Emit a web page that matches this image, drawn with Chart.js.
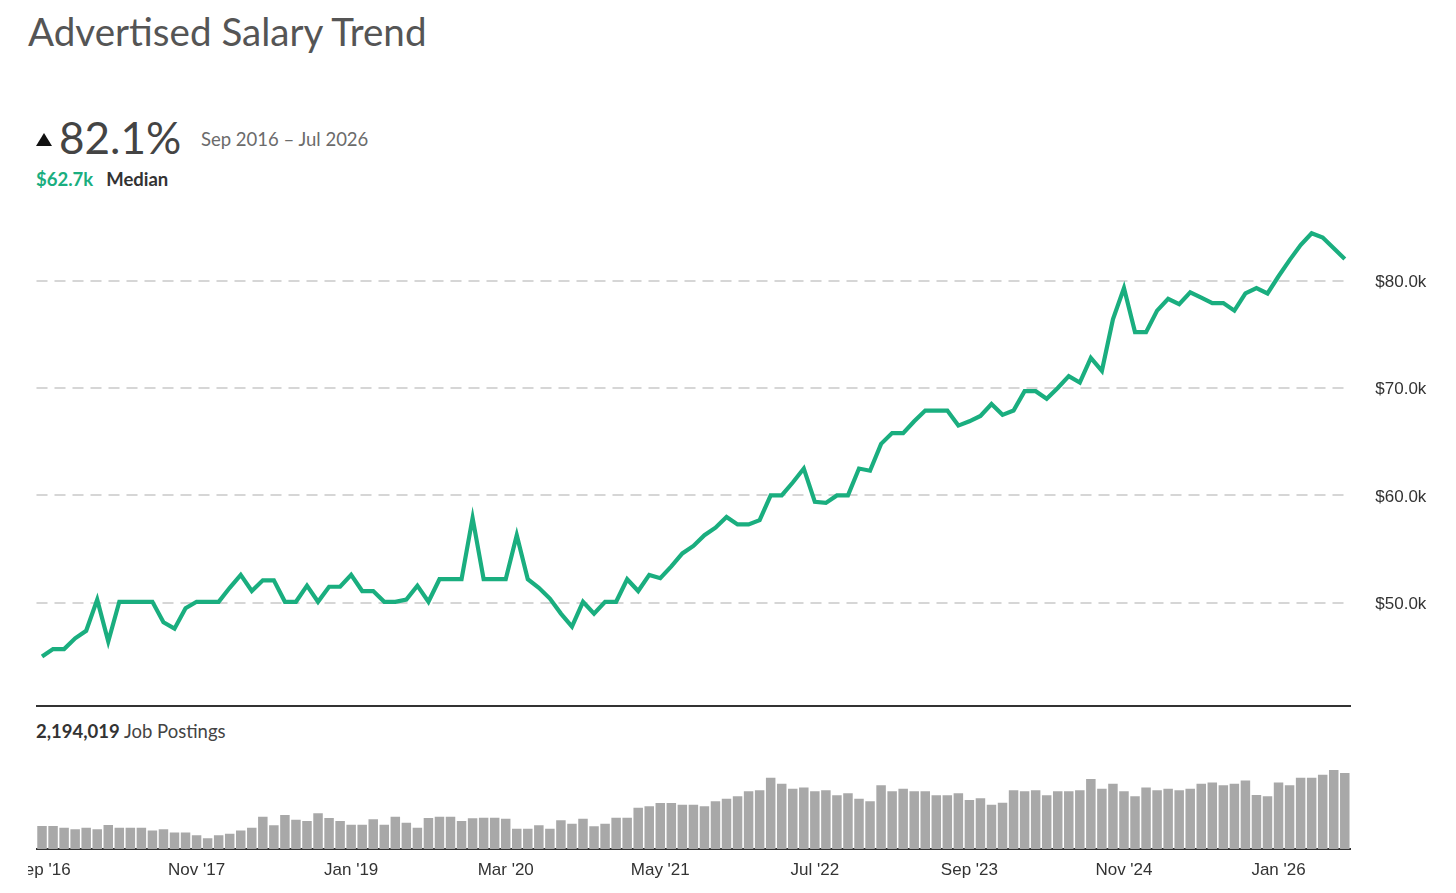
<!DOCTYPE html>
<html>
<head>
<meta charset="utf-8">
<script src="https://cdn.jsdelivr.net/npm/chart.js@4.4.1/dist/chart.umd.min.js"></script>
<style>
  html, body { margin: 0; padding: 0; background: #fff; }
  body { width: 1456px; height: 893px; position: relative; overflow: hidden; font-family: Lato, "Open Sans", sans-serif; }
  .txt { position: absolute; white-space: nowrap; line-height: 1; }
  #title { left: 28px; top: 12px; font-size: 38.6px; color: #555; }
  #tri { position: absolute; left: 36px; top: 133px; width: 0; height: 0;
         border-left: 8px solid transparent; border-right: 8px solid transparent; border-bottom: 13px solid #111; }
  #pct { left: 59px; top: 115px; font-size: 44px; color: #444; }
  #range { left: 201px; top: 130px; font-size: 18.5px; color: #6b6b6b; }
  #median { left: 36px; top: 170px; font-size: 18.5px; font-weight: bold; color: #333; }
  #median .val { color: #1aae7f; margin-right: 13px; }
  #postings { left: 36px; top: 722px; font-size: 18.5px; color: #444; }
  #postings b { color: #333; }
  #lineCanvas { position: absolute; left: 0; top: 200px; }
  #barCanvas { position: absolute; left: 28px; top: 740px; }
</style>
</head>
<body>
<div id="title" class="txt">Advertised Salary Trend</div>
<div id="tri"></div>
<div id="pct" class="txt">82.1%</div>
<div id="range" class="txt">Sep 2016 – Jul 2026</div>
<div id="median" class="txt"><span class="val">$62.7k</span>Median</div>
<div id="postings" class="txt"><b>2,194,019</b> Job Postings</div>
<canvas id="lineCanvas" width="1456" height="508"></canvas>
<canvas id="barCanvas" width="1428" height="153"></canvas>
<script>
// monthly median advertised salary, $k (Sep 2016 .. Jul 2026)
const salary = [
  45.0, 45.7, 45.7, 46.7, 47.4, 50.3, 46.4, 50.1, 50.1, 50.1,
  50.1, 48.2, 47.6, 49.5, 50.1, 50.1, 50.1, 51.4, 52.6, 51.1,
  52.1, 52.1, 50.1, 50.1, 51.6, 50.1, 51.5, 51.5, 52.6, 51.1,
  51.1, 50.1, 50.1, 50.3, 51.6, 50.1, 52.2, 52.2, 52.2, 57.9,
  52.2, 52.2, 52.2, 56.3, 52.2, 51.4, 50.4, 49.0, 47.8, 50.1,
  49.0, 50.1, 50.1, 52.2, 51.1, 52.6, 52.3, 53.4, 54.6, 55.3,
  56.3, 57.0, 58.0, 57.3, 57.3, 57.7, 60.0, 60.0, 61.2, 62.5,
  59.4, 59.3, 60.0, 60.0, 62.5, 62.3, 64.8, 65.8, 65.8, 66.9,
  67.9, 67.9, 67.9, 66.5, 66.9, 67.4, 68.5, 67.5, 67.9, 69.7,
  69.7, 69.0, 70.0, 71.1, 70.5, 72.8, 71.6, 76.4, 79.3, 75.2,
  75.2, 77.2, 78.3, 77.8, 78.9, 78.4, 77.9, 77.9, 77.2, 78.8,
  79.3, 78.8, 80.4, 81.9, 83.3, 84.4, 84.0, 83.0, 82.0
];

// monthly job postings, thousands
const postings = [
  10.1, 10.1, 9.4, 8.7, 9.4, 8.7, 10.6, 9.4, 9.4, 9.4,
  8.1, 8.7, 7.3, 7.3, 6.0, 4.7, 6.0, 6.7, 8.1, 9.4,
  14.2, 10.4, 15.0, 12.9, 12.3, 15.7, 13.6, 12.3, 10.7, 10.7,
  13.1, 10.7, 14.2, 11.6, 9.4, 13.6, 14.2, 14.2, 12.3, 13.5,
  13.8, 13.8, 13.3, 8.9, 8.9, 10.4, 8.9, 12.6, 11.1, 13.3,
  10.0, 11.1, 13.8, 13.8, 18.2, 18.8, 20.2, 20.2, 19.5, 19.5,
  18.8, 21.0, 22.1, 23.2, 25.4, 25.8, 31.4, 28.7, 26.5, 27.1,
  25.4, 25.8, 23.6, 24.5, 22.1, 21.0, 28.0, 25.4, 26.5, 25.4,
  25.4, 23.6, 23.6, 24.5, 21.6, 22.3, 19.5, 20.4, 25.8, 25.4,
  25.8, 23.6, 25.4, 25.4, 25.8, 30.8, 26.5, 28.7, 25.4, 23.2,
  27.1, 25.8, 26.5, 25.8, 26.5, 28.7, 29.3, 28.0, 28.7, 30.1,
  23.8, 23.2, 29.3, 28.0, 31.4, 31.4, 32.7, 34.8, 33.4
];

const tickLabels = ["Sep '16", "Nov '17", "Jan '19", "Mar '20", "May '21", "Jul '22", "Sep '23", "Nov '24", "Jan '26"];
const yTicks = [50, 60, 70, 80];

const MONTH_NAMES = ['Jan','Feb','Mar','Apr','May','Jun','Jul','Aug','Sep','Oct','Nov','Dec'];
const startYear = 2016, startMonth = 8; // Sep
const months = [];
for (let i = 0; i < salary.length; i++) {
    let m = startMonth + i;
    months.push(MONTH_NAMES[m % 12] + " '" + String(startYear + Math.floor(m / 12)).slice(2));
}

const green = '#1aae7f';
const tickFont = { family: '"Liberation Sans", Arial, sans-serif', size: 17 };
const axisW = 105.7; // right gutter for the salary labels

// keep the chart area where we put it: no label overhang padding
function noPad(s) {
    s.paddingLeft = 0; s.paddingRight = 0; s.paddingTop = 0; s.paddingBottom = 0;
}

new Chart(document.getElementById('lineCanvas'), {
    type: 'line',
    data: {
        labels: months,
        datasets: [{
            data: salary,
            borderColor: green,
            borderWidth: 4.2,
            pointRadius: 0,
            tension: 0,
            borderJoinStyle: 'miter',
            fill: false
        }]
    },
    options: {
        responsive: false,
        animation: false,
        layout: { padding: { left: 36.5, top: 15, right: 0, bottom: 2 }, autoPadding: false },
        plugins: { legend: { display: false }, tooltip: { enabled: false } },
        scales: {
            x: {
                offset: true,
                afterFit: s => { s.height = 0; noPad(s); },
                grid: { display: false, drawTicks: false },
                ticks: { display: false },
                border: { display: true, color: '#333', width: 2 }
            },
            y: {
                position: 'right',
                min: 40.4,
                max: 86.1,
                afterBuildTicks: s => { s.ticks = yTicks.map(v => ({ value: v })); },
                afterFit: s => { s.width = axisW; noPad(s); },
                grid: { color: '#d6d6d6', lineWidth: 2, drawTicks: false },
                border: { display: false, dash: [11, 7] },
                ticks: {
                    padding: 25,
                    labelOffset: 1.5,
                    color: '#333',
                    font: tickFont,
                    callback: v => '$' + v.toFixed(1) + 'k'
                }
            }
        }
    }
});

new Chart(document.getElementById('barCanvas'), {
    type: 'bar',
    data: {
        labels: months,
        datasets: [{
            data: postings,
            backgroundColor: '#a8a8a8',
            barPercentage: 0.86,
            categoryPercentage: 1
        }]
    },
    options: {
        responsive: false,
        animation: false,
        layout: { padding: { left: 8.5, top: 9, right: axisW, bottom: 0 }, autoPadding: false },
        plugins: { legend: { display: false }, tooltip: { enabled: false } },
        scales: {
            x: {
                offset: true,
                afterFit: s => { s.height = 44; noPad(s); },
                grid: { display: false, drawTicks: false },
                border: { display: true, color: '#333', width: 2 },
                ticks: {
                    autoSkip: false,
                    maxRotation: 0,
                    padding: 11,
                    color: '#333',
                    font: tickFont,
                    callback: (v, i) => tickLabels.includes(months[i]) ? months[i] : ''
                }
            },
            y: { display: false, min: 0, max: 44, afterFit: noPad }
        }
    }
});
</script>
</body>
</html>
